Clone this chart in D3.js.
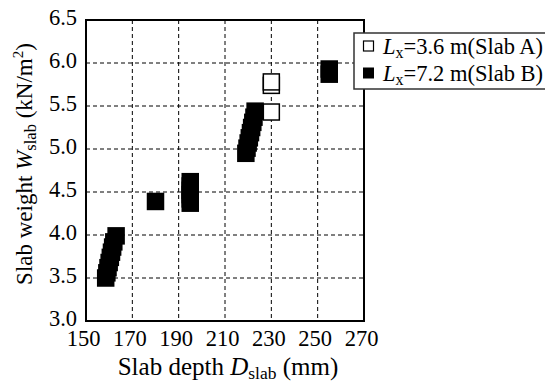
<!DOCTYPE html>
<html><head><meta charset="utf-8">
<script src="https://cdn.jsdelivr.net/npm/d3@7"></script>
<style>body{margin:0;background:#fff}svg{display:block}text{font-family:"Liberation Serif","Times New Roman",serif;fill:#000}</style>
</head><body>
<svg id="c" width="545" height="385"></svg>
<script>
const xTicks = [150,170,190,210,230,250,270];
const yTicks = [3.0,3.5,4.0,4.5,5.0,5.5,6.0,6.5];
// Slab A (open squares)
const slabA_D = [230,230,230];
const slabA_W = [5.43,5.74,5.78];
// Slab B (filled squares)
const slabB_D = [158.5,159,159.5,160,160.5,161,161.5,162,163, 180, 195,195,195,195,195,195, 219,219.5,220,220.5,221,221.5,222,222.5,223, 255,255];
const slabB_W = [3.50,3.56,3.62,3.68,3.74,3.80,3.86,3.92,3.99, 4.39, 4.37,4.42,4.47,4.52,4.57,4.62, 4.95,5.01,5.07,5.13,5.19,5.25,5.31,5.37,5.44, 5.87,5.93];
const legendLabels = [{L:"L",sub:"x",rest:"=3.6 m(Slab A)"},{L:"L",sub:"x",rest:"=7.2 m(Slab B)"}];

const svg = d3.select("#c");
const m = {l:86, t:20, r:364, b:321};
const x = d3.scaleLinear().domain([150,270]).range([m.l,m.r]);
const y = d3.scaleLinear().domain([3.0,6.5]).range([m.b,m.t]);

// grid
const g = svg.append("g");
g.selectAll(".vg").data(xTicks.slice(1,-1)).enter().append("line")
  .attr("x1",d=>x(d)).attr("x2",d=>x(d)).attr("y1",m.t).attr("y2",m.b)
  .attr("stroke","#000").attr("stroke-width",1).attr("stroke-dasharray","4,3");
g.selectAll(".hg").data(yTicks.slice(1,-1)).enter().append("line")
  .attr("y1",d=>y(d)).attr("y2",d=>y(d)).attr("x1",m.l).attr("x2",m.r)
  .attr("stroke","#000").attr("stroke-width",1).attr("stroke-dasharray","4,3");

// axes (labels only)
const xa = svg.append("g").attr("transform",`translate(0,${m.b})`)
  .call(d3.axisBottom(x).tickValues(xTicks).tickSize(0).tickPadding(0).tickFormat(d3.format("d")));
xa.select(".domain").remove();
xa.selectAll("text").attr("font-size",22.5).attr("dy",0).attr("y",24.5).attr("dx",-3)
  .style("font-family","'Liberation Serif',serif");
const ya = svg.append("g").attr("transform",`translate(${m.l},0)`)
  .call(d3.axisLeft(y).tickValues(yTicks).tickSize(0).tickPadding(9).tickFormat(d3.format(".1f")));
ya.select(".domain").remove();
ya.selectAll("text").attr("font-size",22.5).attr("dy","0.2em")
  .style("font-family","'Liberation Serif',serif");

// markers
const S = 17.5;
const A = slabA_D.map((d,i)=>({D:d,W:slabA_W[i]}));
const B = slabB_D.map((d,i)=>({D:d,W:slabB_W[i]}));
svg.append("g").selectAll("rect").data(A).enter().append("rect")
  .attr("x",d=>x(d.D)-(S-1.5)/2).attr("y",d=>y(d.W)-(S-1.5)/2)
  .attr("width",S-1.5).attr("height",S-1.5)
  .attr("fill","#fff").attr("stroke","#000").attr("stroke-width",1.5);
svg.append("g").selectAll("rect").data(B).enter().append("rect")
  .attr("x",d=>x(d.D)-S/2).attr("y",d=>y(d.W)-S/2)
  .attr("width",S).attr("height",S).attr("fill","#000");

// frame
svg.append("rect").attr("x",m.l).attr("y",m.t).attr("width",m.r-m.l).attr("height",m.b-m.t)
  .attr("fill","none").attr("stroke","#000").attr("stroke-width",2);

// axis titles
const xt = svg.append("text").attr("x",228).attr("y",375).attr("text-anchor","middle").attr("font-size",25);
xt.append("tspan").text("Slab depth ");
xt.append("tspan").attr("font-style","italic").text("D");
xt.append("tspan").attr("font-size",17.5).attr("dy",4).text("slab");
xt.append("tspan").attr("dy",-4).text(" (mm)");

const yt = svg.append("text").attr("transform","translate(32,164) rotate(-90)").attr("text-anchor","middle").attr("font-size",23);
yt.append("tspan").text("Slab weight ");
yt.append("tspan").attr("font-style","italic").text("W");
yt.append("tspan").attr("font-size",16.5).attr("dy",4).text("slab");
yt.append("tspan").attr("dy",-4).text(" (kN/m");
yt.append("tspan").attr("font-size",15).attr("dy",-9).text("2");
yt.append("tspan").attr("dy",9).text(")");

// legend
const lg = svg.append("g");
lg.append("rect").attr("x",354).attr("y",33).attr("width",195).attr("height",56)
  .attr("fill","#fff").attr("stroke","#333").attr("stroke-width",1.5);
legendLabels.forEach((l,i)=>{
  const cy = 46 + i*27;
  if(i===0){
    lg.append("rect").attr("x",363.5).attr("y",cy-5).attr("width",10).attr("height",10)
      .attr("fill","#fff").attr("stroke","#000").attr("stroke-width",1.2);
  } else {
    lg.append("rect").attr("x",363).attr("y",cy-5.5).attr("width",11).attr("height",11).attr("fill","#000");
  }
  const t = lg.append("text").attr("x",383).attr("y",cy+8).attr("font-size",22.5);
  t.append("tspan").attr("font-style","italic").text(l.L);
  t.append("tspan").attr("font-size",16).attr("dy",4).text(l.sub);
  t.append("tspan").attr("dy",-4).text(l.rest);
});
</script>
</body></html>
